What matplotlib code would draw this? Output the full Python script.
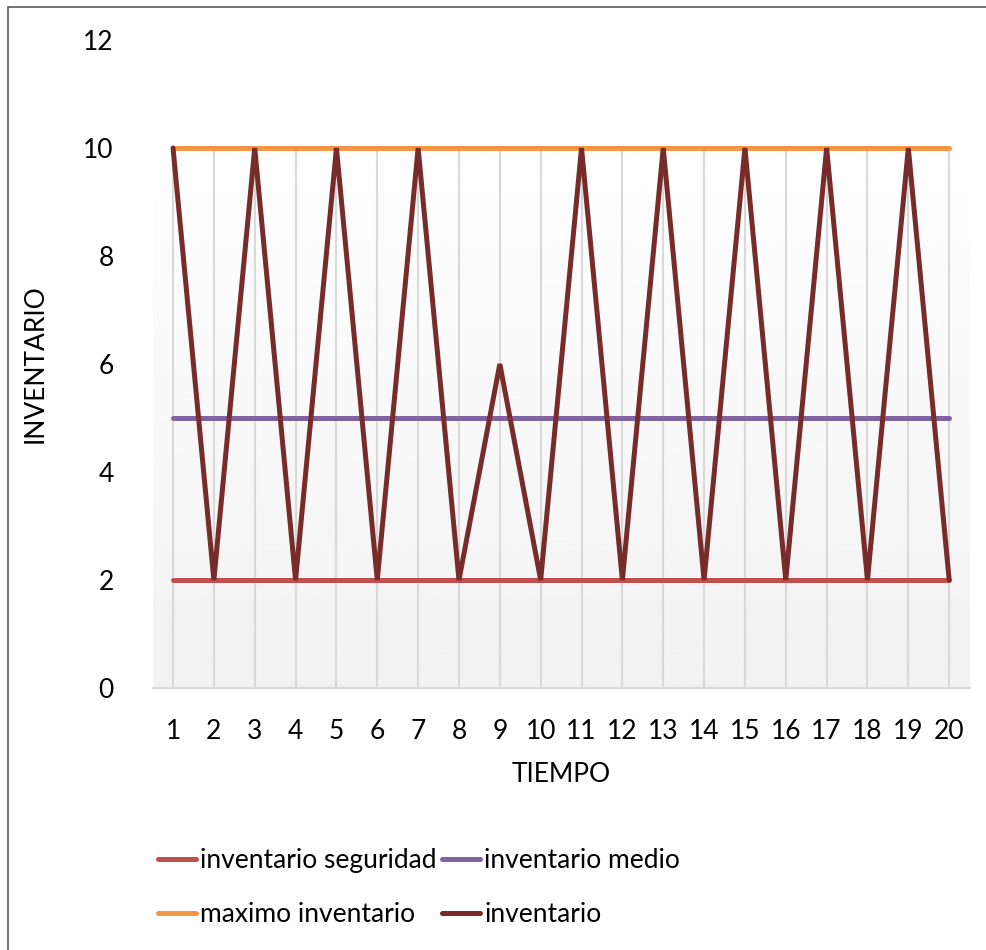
import numpy as np
import matplotlib
matplotlib.use('Agg')
import matplotlib.pyplot as plt
from matplotlib.patches import Rectangle

plt.rcParams['font.family'] = ['Lato', 'DejaVu Sans']

# %% data
tiempo = list(range(1, 21))
inv_seguridad = [2] * 20
inv_medio = [5] * 20
max_inventario = [10] * 20
inventario = [10, 2, 10, 2, 10, 2, 10, 2, 6, 2, 10, 2, 10, 2, 10, 2, 10, 2, 10, 2]

y_ticks = [0, 2, 4, 6, 8, 10, 12]

# %% figure
fs = 19
fig = plt.figure(figsize=(9.87, 9.5), dpi=100)
ax = fig.add_axes([152.6/987, 1-688/950, 817/987, 648/950])

# gradient background of plot area (grey at bottom, white at top)
grad = np.clip(np.linspace(0.949, 1.006, 256), 0, 1).reshape(-1, 1)
ax.imshow(grad, cmap='gray', vmin=0, vmax=1, aspect='auto', origin='lower',
          extent=[0.5, 20.5, 0, 12], zorder=0)

# drop lines
ax.vlines(tiempo, 0, np.max([max_inventario, inventario], axis=0),
          color='#d9d9d9', lw=1.5, zorder=1)

l1, = ax.plot(tiempo, inv_seguridad, color='#C0504D', lw=3.6, solid_capstyle='round',
              label='inventario seguridad', zorder=3)
l2, = ax.plot(tiempo, inv_medio, color='#8064A2', lw=3.6, solid_capstyle='round',
              label='inventario medio', zorder=3)
l3, = ax.plot(tiempo, max_inventario, color='#F79646', lw=3.6, solid_capstyle='round',
              label='maximo inventario', zorder=3)
l4, = ax.plot(tiempo, inventario, color='#772C2A', lw=3.6, solid_capstyle='round',
              solid_joinstyle='miter', label='inventario', zorder=4)

ax.set_xlim(0.5, 20.5)
ax.set_ylim(0, 12)
ax.set_xticks(tiempo)
ax.set_yticks(y_ticks)
ax.tick_params(length=0, labelsize=fs)
ax.tick_params(axis='x', pad=22)
ax.tick_params(axis='y', pad=28)

for s in ['top', 'right', 'left']:
    ax.spines[s].set_visible(False)
ax.spines['bottom'].set_color('#d9d9d9')
ax.spines['bottom'].set_linewidth(1.5)

ax.set_xlabel('TIEMPO', fontsize=fs)
ax.set_ylabel('INVENTARIO', fontsize=fs)
ax.xaxis.set_label_coords(0.5, -0.134)
ax.yaxis.set_label_coords(-0.144, 0.5)
ax.xaxis.label.set_va('center')
ax.yaxis.label.set_va('center')

# legend, filled row by row
fig.legend([l1, l3, l2, l4], [l1.get_label(), l3.get_label(), l2.get_label(), l4.get_label()],
           loc='upper left', bbox_to_anchor=(145/987, 1-835/950), ncol=2,
           frameon=False, fontsize=fs, handlelength=1.45, handletextpad=0.15,
           columnspacing=0.2, labelspacing=1.1, borderpad=0)

# chart border
fig.add_artist(Rectangle((8/987, -0.05), 1.1, 1-7/950+0.05, transform=fig.transFigure,
                         fill=False, edgecolor='#595959', lw=1.2))

plt.savefig('out.png', dpi=100)
